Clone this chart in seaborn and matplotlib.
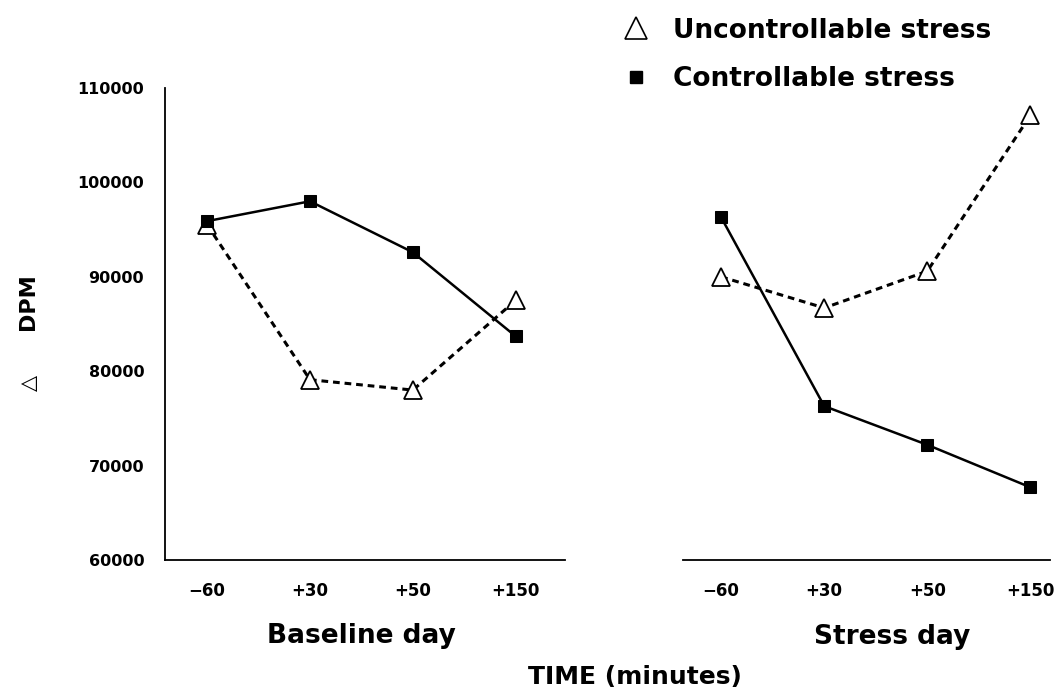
import numpy as np
import pandas as pd
import matplotlib
matplotlib.use("Agg")
import matplotlib.pyplot as plt
import seaborn as sns
from matplotlib.lines import Line2D

sns.set_theme(style="white")
plt.rcParams['font.family'] = ['DejaVu Sans']
plt.rcParams.update({"text.color": "black", "axes.labelcolor": "black",
                     "xtick.color": "black", "ytick.color": "black"})

time_labels = ["\u221260", "+30", "+50", "+150"]
days = ["Baseline day", "Stress day"]
groups = ["Uncontrollable stress", "Controllable stress"]

baseline_uncontrollable = [95500, 79100, 78000, 87500]
baseline_controllable = [95900, 98000, 92600, 83700]
stress_uncontrollable = [90000, 86700, 90600, 107100]
stress_controllable = [96300, 76300, 72200, 67700]

y_ticks = [60000, 70000, 80000, 90000, 100000, 110000]

rows = []
for day, unc, ctl in [("Baseline day", baseline_uncontrollable, baseline_controllable),
                      ("Stress day", stress_uncontrollable, stress_controllable)]:
    for i, t in enumerate(time_labels):
        rows.append(dict(day=day, group="Uncontrollable stress", pos=i, time=t, value=unc[i]))
        rows.append(dict(day=day, group="Controllable stress", pos=i, time=t, value=ctl[i]))
df = pd.DataFrame(rows)

W, H = 1057, 694
fig = plt.figure(figsize=(W / 100, H / 100), dpi=100)
fig.patch.set_facecolor("white")

def frac(x0, y0, x1, y1):
    return [x0 / W, 1 - y1 / H, (x1 - x0) / W, (y1 - y0) / H]

ax1 = fig.add_axes(frac(165, 88, 565, 560))
ax2 = fig.add_axes(frac(683, 88, 1050, 560))

styles = {
    "Uncontrollable stress": dict(marker="^", markersize=13, markerfacecolor="white",
                                  markeredgecolor="black", markeredgewidth=1.3,
                                  linestyle=(0, (2.2, 1.6)), linewidth=2.2, zorder=2),
    "Controllable stress": dict(marker="s", markersize=9, markerfacecolor="black",
                                markeredgecolor="black", linestyle="-", linewidth=1.8, zorder=3),
}

for ax, day, xlim in [(ax1, "Baseline day", (-0.41, 3.48)), (ax2, "Stress day", (-0.37, 3.19))]:
    sub = df[df.day == day]
    for g in groups:
        d = sub[sub.group == g]
        sns.lineplot(data=d, x="pos", y="value", ax=ax, color="black", legend=False, **styles[g])
    ax.set_xlim(*xlim)
    ax.set_ylim(60000, 110000)
    ax.set_xticks(range(len(time_labels)))
    ax.set_xticklabels(time_labels, fontsize=12, fontweight="bold")
    ax.tick_params(axis="x", length=0, pad=16)
    ax.set_xlabel("")
    ax.set_ylabel("")
    for s in ["top", "right"]:
        ax.spines[s].set_visible(False)
    ax.spines["bottom"].set_color("black")
    ax.spines["bottom"].set_linewidth(1.3)

ax1.set_yticks(y_ticks)
ax1.set_yticklabels([str(v) for v in y_ticks], fontsize=11.5, fontweight="bold")
ax1.tick_params(axis="y", length=0, pad=15)
ax1.spines["left"].set_color("black")
ax1.spines["left"].set_linewidth(1.3)
ax2.set_yticks([])
ax2.spines["left"].set_visible(False)

fig.text(361 / W, 1 - 636 / H, "Baseline day", ha="center", va="center", fontsize=19, fontweight="bold")
fig.text(892 / W, 1 - 637 / H, "Stress day", ha="center", va="center", fontsize=19, fontweight="bold")
fig.text(635 / W, 1 - 677 / H, "TIME (minutes)", ha="center", va="center", fontsize=18, fontweight="bold")

fig.text(28 / W, 1 - 302 / H, "DPM", ha="center", va="center", rotation=90, fontsize=16, fontweight="bold")
fig.text(29 / W, 1 - 383 / H, "\u25b3", ha="center", va="center", rotation=90, fontsize=15)

handles = [
    Line2D([], [], marker="^", markersize=16, markerfacecolor="white", markeredgecolor="black",
           markeredgewidth=1.2, linestyle="none"),
    Line2D([], [], marker="s", markersize=8, markerfacecolor="black", markeredgecolor="black",
           linestyle="none"),
]
leg = fig.legend(handles, groups, loc="upper left", bbox_to_anchor=(610 / W, 1 - 7 / H),
                 frameon=False, prop=dict(size=19, weight="bold"), labelspacing=0.85,
                 handletextpad=0.8, handlelength=1.2, borderaxespad=0)

fig.savefig("out.png", dpi=100, facecolor="white")
